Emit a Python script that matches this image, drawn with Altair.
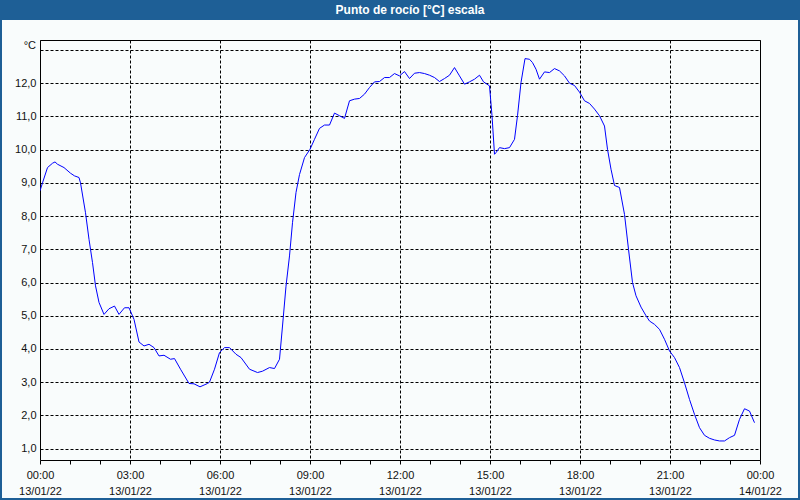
import altair as alt
import pandas as pd

# ---- data ----
times = [
    "00:00", "00:05", "00:15", "00:25", "00:30", "00:35", "00:48", "01:01", "01:09", "01:18",
    "01:21", "01:31", "01:38", "01:45", "01:51", "01:58", "02:08", "02:18", "02:29", "02:38",
    "02:49", "02:58", "03:08", "03:18", "03:28", "03:38", "03:48", "03:58", "04:08", "04:21",
    "04:29", "04:41", "04:58", "05:08", "05:20", "05:35", "05:39", "05:49", "05:59", "06:09",
    "06:19", "06:32", "06:42", "06:59", "07:15", "07:25", "07:39", "07:49", "07:59", "08:05",
    "08:12", "08:19", "08:25", "08:32", "08:39", "08:49", "09:00", "09:09", "09:19", "09:29",
    "09:39", "09:49", "09:59", "10:09", "10:19", "10:29", "10:39", "10:49", "10:59", "11:09",
    "11:19", "11:29", "11:39", "11:49", "11:59", "12:09", "12:19", "12:29", "12:39", "12:49",
    "12:59", "13:09", "13:19", "13:29", "13:39", "13:49", "13:59", "14:09", "14:19", "14:29",
    "14:39", "14:47", "14:59", "15:04", "15:09", "15:12", "15:19", "15:29", "15:39", "15:49",
    "15:55", "16:02", "16:10", "16:19", "16:25", "16:32", "16:39", "16:49", "16:59", "17:09",
    "17:19", "17:29", "17:39", "17:49", "17:59", "18:09", "18:19", "18:29", "18:39", "18:49",
    "18:55", "19:02", "19:09", "19:19", "19:29", "19:37", "19:45", "19:52", "20:02", "20:12",
    "20:19", "20:29", "20:39", "20:49", "20:59", "21:09", "21:19", "21:29", "21:39", "21:49",
    "21:59", "22:09", "22:19", "22:29", "22:39", "22:49", "22:59", "23:09", "23:19", "23:29",
    "23:39", "23:49",
]
dew_point = [
    8.76, 9.0, 9.46, 9.59, 9.63, 9.56, 9.46, 9.29, 9.21, 9.16,
    9.0, 8.1, 7.3, 6.6, 5.9, 5.4, 5.04, 5.21, 5.29, 5.04,
    5.24, 5.24, 4.89, 4.21, 4.09, 4.14, 4.04, 3.79, 3.81, 3.69,
    3.71, 3.39, 2.96, 2.95, 2.86, 2.96, 3.0, 3.39, 3.89, 4.04,
    4.04, 3.84, 3.74, 3.39, 3.29, 3.33, 3.44, 3.41, 3.69, 4.69,
    5.89, 6.8, 7.8, 8.71, 9.25, 9.76, 10.01, 10.31, 10.64, 10.74,
    10.74, 11.1, 11.02, 10.94, 11.47, 11.52, 11.54, 11.67, 11.87, 12.04,
    12.05, 12.17, 12.17, 12.29, 12.22, 12.35, 12.14, 12.3, 12.32, 12.29,
    12.24, 12.17, 12.05, 12.14, 12.24, 12.47, 12.22, 11.97, 12.04, 12.12,
    12.24, 12.04, 11.92, 11.02, 9.86, 9.91, 10.06, 10.03, 10.06, 10.31,
    11.02, 12.02, 12.74, 12.72, 12.62, 12.42, 12.12, 12.34, 12.32, 12.44,
    12.37, 12.22, 12.0, 11.93, 11.73, 11.47, 11.39, 11.22, 11.02, 10.71,
    10.01, 9.41, 8.92, 8.86, 8.05, 7.0, 6.0, 5.6, 5.26, 5.0,
    4.84, 4.74, 4.59, 4.29, 3.94, 3.74, 3.44, 2.98, 2.48, 2.03,
    1.63, 1.4, 1.31, 1.26, 1.23, 1.23, 1.33, 1.4, 1.88, 2.2,
    2.13, 1.78,
]
y_ticks = [1, 2, 3, 4, 5, 6, 7, 8, 9, 10, 11, 12, 13]
title_text = "Punto de rocío [°C] escala"
unit_text = "°C"

START_MS = 1642032000000  # 2022-01-13 00:00 UTC
HOUR_MS = 3600000
x_ticks = [START_MS + h * HOUR_MS for h in range(25)]

BLUE = "#1E5F96"
BG = "#F9FCFC"
FONT = "Liberation Sans"

df = pd.DataFrame({
    "time": ["2022-01-13T" + t + ":00Z" for t in times],
    "value": dew_point,
})
one = pd.DataFrame({"a": [0]})

line = alt.Chart(df).mark_line(color="#0000FF", strokeWidth=1, clip=True).encode(
    x=alt.X(
        "time:T",
        scale=alt.Scale(type="utc", domain=[START_MS, START_MS + 24 * HOUR_MS], nice=False),
        axis=alt.Axis(
            title=None,
            values=x_ticks,
            labelExpr="utchours(datum.value) % 3 == 0 ? [utcFormat(datum.value, '%H:%M'), utcFormat(datum.value, '%d/%m/%y')] : ''",
            labelOverlap=False,
            labelFlush=False,
            labelFont=FONT,
            labelFontSize=11,
            labelColor="#111111",
            labelLineHeight=16,
            labelPadding=5,
            labelBaseline="top",
            tickSize=4,
            tickColor="black",
            tickWidth=1,
            domain=False,
            grid=True,
            gridColor="black",
            gridDash=[3, 2],
            gridWidth=1,
            gridOpacity={"condition": {"test": "utchours(datum.value) % 3 == 0", "value": 1}, "value": 0},
        ),
    ),
    y=alt.Y(
        "value:Q",
        scale=alt.Scale(domain=[0.657, 13.30], nice=False, zero=False),
        axis=alt.Axis(
            title=None,
            values=y_ticks,
            labelExpr="datum.value == 13 ? '' : replace(format(datum.value, '.1f'), '.', ',')",
            labelFont=FONT,
            labelFontSize=11,
            labelColor="#111111",
            labelPadding=4,
            ticks=False,
            domain=False,
            grid=True,
            gridColor="black",
            gridDash=[3, 2],
            gridWidth=1,
        ),
    ),
)

title_bar = alt.Chart(one).mark_rect(color=BLUE).encode(
    x=alt.value(-40), x2=alt.value(760), y=alt.value(-40), y2=alt.value(-20)
)
title = alt.Chart(one).mark_text(
    text=title_text, color="white", font=FONT, fontSize=12, fontWeight="bold",
    align="center", baseline="middle"
).encode(x=alt.value(370), y=alt.value(-30))
unit = alt.Chart(one).mark_text(
    text=unit_text, color="#111111", font=FONT, fontSize=11, align="right", baseline="middle"
).encode(x=alt.value(-4), y=alt.value(6))
border = alt.Chart(one).mark_rect(filled=False, stroke=BLUE, strokeWidth=2).encode(
    x=alt.value(-39), x2=alt.value(759), y=alt.value(-39), y2=alt.value(459)
)

chart = alt.layer(line, title_bar, title, unit, border).properties(
    width=720,
    height=420,
    autosize=alt.AutoSizeParams(type="none"),
    padding={"left": 40, "top": 40, "right": 40, "bottom": 40},
    background=BG,
).configure_view(stroke="black", strokeWidth=1, fill=BG)

chart.save("out.html", embed_options={"renderer": "svg", "actions": False})
